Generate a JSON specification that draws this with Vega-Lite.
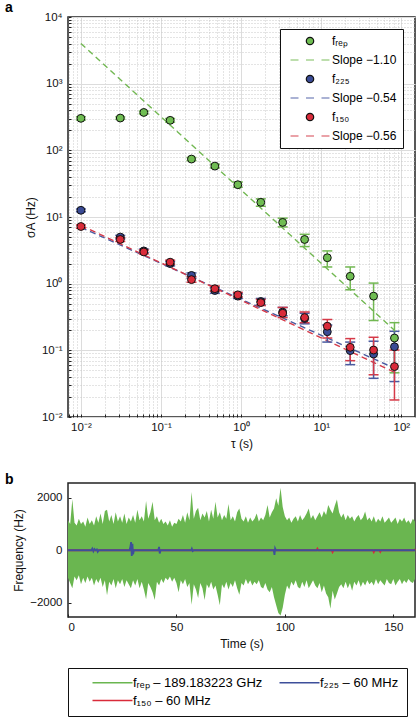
{
  "$schema": "https://vega.github.io/schema/vega-lite/v6.json",
  "padding": {"left": 4, "top": 0, "right": 0, "bottom": 0},
  "spacing": 21,
  "config": {
    "font": "Liberation Sans",
    "view": {"stroke": "#222", "strokeWidth": 1.5},
    "axis": {"labelFontSize": 11.5, "titleFontSize": 12, "labelColor": "#111", "titleColor": "#111", "titleFontWeight": "normal", "domain": false, "tickColor": "#222", "tickSize": -3, "labelPadding": 9, "titlePadding": 4},
    "axisX": {"labelPadding": 7, "titlePadding": 6}
  },
  "resolve": {"scale": {"x": "independent", "y": "independent", "color": "independent"}},
  "datasets": {
    "pts": [
      {"series": "fᵣₑₚ", "g": "rep", "tau": 0.01, "val": 302, "lo": 285, "hi": 318},
      {"series": "fᵣₑₚ", "g": "rep", "tau": 0.031, "val": 305, "lo": 292, "hi": 318},
      {"series": "fᵣₑₚ", "g": "rep", "tau": 0.061, "val": 370, "lo": 352, "hi": 388},
      {"series": "fᵣₑₚ", "g": "rep", "tau": 0.13, "val": 282, "lo": 265, "hi": 300},
      {"series": "fᵣₑₚ", "g": "rep", "tau": 0.24, "val": 74, "lo": 70, "hi": 78},
      {"series": "fᵣₑₚ", "g": "rep", "tau": 0.47, "val": 58, "lo": 54.5, "hi": 62},
      {"series": "fᵣₑₚ", "g": "rep", "tau": 0.91, "val": 30.5, "lo": 28, "hi": 33.5},
      {"series": "fᵣₑₚ", "g": "rep", "tau": 1.76, "val": 16.6, "lo": 14.5, "hi": 18.7},
      {"series": "fᵣₑₚ", "g": "rep", "tau": 3.3, "val": 8.3, "lo": 7.1, "hi": 9.6},
      {"series": "fᵣₑₚ", "g": "rep", "tau": 6.2, "val": 4.6, "lo": 3.6, "hi": 5.5},
      {"series": "fᵣₑₚ", "g": "rep", "tau": 11.9, "val": 2.45, "lo": 1.78, "hi": 3.1},
      {"series": "fᵣₑₚ", "g": "rep", "tau": 23, "val": 1.29, "lo": 0.81, "hi": 1.78},
      {"series": "fᵣₑₚ", "g": "rep", "tau": 45, "val": 0.65, "lo": 0.28, "hi": 1.02},
      {"series": "fᵣₑₚ", "g": "rep", "tau": 82, "val": 0.153, "lo": 0.046, "hi": 0.26},
      {"series": "f₂₂₅", "g": "225", "tau": 0.01, "val": 12.6, "lo": 12.0, "hi": 13.2},
      {"series": "f₂₂₅", "g": "225", "tau": 0.031, "val": 5.0, "lo": 4.7, "hi": 5.3},
      {"series": "f₂₂₅", "g": "225", "tau": 0.061, "val": 3.1, "lo": 2.9, "hi": 3.3},
      {"series": "f₂₂₅", "g": "225", "tau": 0.13, "val": 2.0, "lo": 1.85, "hi": 2.15},
      {"series": "f₂₂₅", "g": "225", "tau": 0.24, "val": 1.33, "lo": 1.2, "hi": 1.45},
      {"series": "f₂₂₅", "g": "225", "tau": 0.47, "val": 0.79, "lo": 0.72, "hi": 0.87},
      {"series": "f₂₂₅", "g": "225", "tau": 0.91, "val": 0.65, "lo": 0.6, "hi": 0.71},
      {"series": "f₂₂₅", "g": "225", "tau": 1.76, "val": 0.54, "lo": 0.48, "hi": 0.6},
      {"series": "f₂₂₅", "g": "225", "tau": 3.3, "val": 0.375, "lo": 0.33, "hi": 0.44},
      {"series": "f₂₂₅", "g": "225", "tau": 6.2, "val": 0.3, "lo": 0.25, "hi": 0.36},
      {"series": "f₂₂₅", "g": "225", "tau": 11.9, "val": 0.19, "lo": 0.133, "hi": 0.24},
      {"series": "f₂₂₅", "g": "225", "tau": 23, "val": 0.099, "lo": 0.061, "hi": 0.133},
      {"series": "f₂₂₅", "g": "225", "tau": 45, "val": 0.088, "lo": 0.038, "hi": 0.137},
      {"series": "f₂₂₅", "g": "225", "tau": 82, "val": 0.113, "lo": 0.034, "hi": 0.193},
      {"series": "f₁₅₀", "g": "150", "tau": 0.01, "val": 7.2, "lo": 6.8, "hi": 7.6},
      {"series": "f₁₅₀", "g": "150", "tau": 0.031, "val": 4.6, "lo": 4.3, "hi": 4.9},
      {"series": "f₁₅₀", "g": "150", "tau": 0.061, "val": 2.99, "lo": 2.8, "hi": 3.2},
      {"series": "f₁₅₀", "g": "150", "tau": 0.13, "val": 2.1, "lo": 1.95, "hi": 2.25},
      {"series": "f₁₅₀", "g": "150", "tau": 0.24, "val": 1.15, "lo": 1.05, "hi": 1.27},
      {"series": "f₁₅₀", "g": "150", "tau": 0.47, "val": 0.84, "lo": 0.77, "hi": 0.92},
      {"series": "f₁₅₀", "g": "150", "tau": 0.91, "val": 0.68, "lo": 0.63, "hi": 0.74},
      {"series": "f₁₅₀", "g": "150", "tau": 1.76, "val": 0.52, "lo": 0.47, "hi": 0.58},
      {"series": "f₁₅₀", "g": "150", "tau": 3.3, "val": 0.36, "lo": 0.31, "hi": 0.44},
      {"series": "f₁₅₀", "g": "150", "tau": 6.2, "val": 0.31, "lo": 0.26, "hi": 0.376},
      {"series": "f₁₅₀", "g": "150", "tau": 11.9, "val": 0.23, "lo": 0.153, "hi": 0.29},
      {"series": "f₁₅₀", "g": "150", "tau": 23, "val": 0.111, "lo": 0.07, "hi": 0.15},
      {"series": "f₁₅₀", "g": "150", "tau": 45, "val": 0.101, "lo": 0.043, "hi": 0.157},
      {"series": "f₁₅₀", "g": "150", "tau": 82, "val": 0.057, "lo": 0.018, "hi": 0.101}
    ],
    "fits": [
      {"g": "rep", "tau": 0.01, "val": 4000},
      {"g": "rep", "tau": 82, "val": 0.2},
      {"g": "225", "tau": 0.01, "val": 7.0},
      {"g": "225", "tau": 82, "val": 0.054},
      {"g": "150", "tau": 0.01, "val": 7.5},
      {"g": "150", "tau": 82, "val": 0.047}
    ],
    "noise": [
      {"t": 0, "hi": 1150, "lo": -1050}, {"t": 1, "hi": 1000, "lo": -1250}, {"t": 2, "hi": 1950, "lo": -1450}, {"t": 3, "hi": 1050, "lo": -1000},
      {"t": 4, "hi": 950, "lo": -1150}, {"t": 5, "hi": 1200, "lo": -950}, {"t": 6, "hi": 1000, "lo": -1300}, {"t": 7, "hi": 1100, "lo": -1050},
      {"t": 8, "hi": 900, "lo": -1250}, {"t": 9, "hi": 1250, "lo": -1000}, {"t": 10, "hi": 1000, "lo": -1200}, {"t": 11, "hi": 1150, "lo": -1050},
      {"t": 12, "hi": 950, "lo": -1350}, {"t": 13, "hi": 1300, "lo": -1100}, {"t": 14, "hi": 1050, "lo": -1250}, {"t": 15, "hi": 1400, "lo": -1050},
      {"t": 16, "hi": 1000, "lo": -1400}, {"t": 17, "hi": 1500, "lo": -1150}, {"t": 18, "hi": 1550, "lo": -1720}, {"t": 19, "hi": 1100, "lo": -1200},
      {"t": 20, "hi": 1350, "lo": -1350}, {"t": 21, "hi": 1000, "lo": -1100}, {"t": 22, "hi": 1450, "lo": -1450}, {"t": 23, "hi": 1100, "lo": -1150},
      {"t": 24, "hi": 1300, "lo": -1300}, {"t": 25, "hi": 1050, "lo": -1100}, {"t": 26, "hi": 1400, "lo": -1400}, {"t": 27, "hi": 1000, "lo": -1150},
      {"t": 28, "hi": 1250, "lo": -1300}, {"t": 29, "hi": 1100, "lo": -1450}, {"t": 30, "hi": 1350, "lo": -1150}, {"t": 31, "hi": 1050, "lo": -1350},
      {"t": 32, "hi": 1550, "lo": -1100}, {"t": 33, "hi": 1150, "lo": -1450}, {"t": 34, "hi": 1300, "lo": -1200}, {"t": 35, "hi": 1100, "lo": -1500},
      {"t": 36, "hi": 1880, "lo": -1870}, {"t": 37, "hi": 1200, "lo": -1250}, {"t": 38, "hi": 1450, "lo": -1400}, {"t": 39, "hi": 1850, "lo": -1600},
      {"t": 40, "hi": 1150, "lo": -1900}, {"t": 41, "hi": 1300, "lo": -1200}, {"t": 42, "hi": 1050, "lo": -1350}, {"t": 43, "hi": 1200, "lo": -1100},
      {"t": 44, "hi": 1000, "lo": -1250}, {"t": 45, "hi": 1100, "lo": -1050}, {"t": 46, "hi": 950, "lo": -1150}, {"t": 47, "hi": 1150, "lo": -1000},
      {"t": 48, "hi": 900, "lo": -1200}, {"t": 49, "hi": 1050, "lo": -1050}, {"t": 50, "hi": 1000, "lo": -1250}, {"t": 51, "hi": 1200, "lo": -1600},
      {"t": 52, "hi": 1100, "lo": -1150}, {"t": 53, "hi": 1350, "lo": -1300}, {"t": 54, "hi": 1050, "lo": -1100}, {"t": 55, "hi": 1450, "lo": -1400},
      {"t": 56, "hi": 1150, "lo": -1250}, {"t": 57, "hi": 2230, "lo": -2080}, {"t": 58, "hi": 1200, "lo": -1300}, {"t": 59, "hi": 1500, "lo": -1500},
      {"t": 60, "hi": 1620, "lo": -1820}, {"t": 61, "hi": 1150, "lo": -1250}, {"t": 62, "hi": 1400, "lo": -1450}, {"t": 63, "hi": 1250, "lo": -1900},
      {"t": 64, "hi": 1500, "lo": -1300}, {"t": 65, "hi": 1100, "lo": -1450}, {"t": 66, "hi": 1550, "lo": -1200}, {"t": 67, "hi": 1200, "lo": -1500},
      {"t": 68, "hi": 1850, "lo": -1350}, {"t": 69, "hi": 1250, "lo": -1700}, {"t": 70, "hi": 1450, "lo": -2100}, {"t": 71, "hi": 1150, "lo": -1300},
      {"t": 72, "hi": 1350, "lo": -1450}, {"t": 73, "hi": 1200, "lo": -1200}, {"t": 74, "hi": 1770, "lo": -1500}, {"t": 75, "hi": 1150, "lo": -1250},
      {"t": 76, "hi": 1300, "lo": -1400}, {"t": 77, "hi": 1100, "lo": -1150}, {"t": 78, "hi": 1450, "lo": -1450}, {"t": 79, "hi": 1600, "lo": -1700},
      {"t": 80, "hi": 1200, "lo": -1250}, {"t": 81, "hi": 1100, "lo": -1350}, {"t": 82, "hi": 1300, "lo": -1100}, {"t": 83, "hi": 1050, "lo": -1300},
      {"t": 84, "hi": 1250, "lo": -1150}, {"t": 85, "hi": 1100, "lo": -1350}, {"t": 86, "hi": 1200, "lo": -1200}, {"t": 87, "hi": 1400, "lo": -1300},
      {"t": 88, "hi": 1100, "lo": -1150}, {"t": 89, "hi": 1250, "lo": -1400}, {"t": 90, "hi": 1150, "lo": -1460}, {"t": 91, "hi": 1350, "lo": -1250},
      {"t": 92, "hi": 1730, "lo": -1500}, {"t": 93, "hi": 1250, "lo": -1600}, {"t": 94, "hi": 1450, "lo": -1400}, {"t": 95, "hi": 1600, "lo": -1800},
      {"t": 96, "hi": 1990, "lo": -2100}, {"t": 97, "hi": 1700, "lo": -2400}, {"t": 98, "hi": 2390, "lo": -2490}, {"t": 99, "hi": 1650, "lo": -2200},
      {"t": 100, "hi": 1300, "lo": -1700}, {"t": 101, "hi": 1150, "lo": -1350}, {"t": 102, "hi": 1250, "lo": -1500}, {"t": 103, "hi": 1050, "lo": -1200},
      {"t": 104, "hi": 1200, "lo": -1350}, {"t": 105, "hi": 1300, "lo": -1150}, {"t": 106, "hi": 1100, "lo": -1400}, {"t": 107, "hi": 1350, "lo": -1460},
      {"t": 108, "hi": 1150, "lo": -1200}, {"t": 109, "hi": 1250, "lo": -1400}, {"t": 110, "hi": 1400, "lo": -1150}, {"t": 111, "hi": 1600, "lo": -1450},
      {"t": 112, "hi": 1200, "lo": -1300}, {"t": 113, "hi": 1350, "lo": -1150}, {"t": 114, "hi": 1150, "lo": -1350}, {"t": 115, "hi": 1300, "lo": -1450},
      {"t": 116, "hi": 1450, "lo": -1250}, {"t": 117, "hi": 1250, "lo": -1600}, {"t": 118, "hi": 1500, "lo": -1350}, {"t": 119, "hi": 1350, "lo": -1650},
      {"t": 120, "hi": 1730, "lo": -1800}, {"t": 121, "hi": 1550, "lo": -2230}, {"t": 122, "hi": 1400, "lo": -1550}, {"t": 123, "hi": 1700, "lo": -1880},
      {"t": 124, "hi": 1940, "lo": -1650}, {"t": 125, "hi": 1450, "lo": -1400}, {"t": 126, "hi": 1250, "lo": -1300}, {"t": 127, "hi": 1400, "lo": -1450},
      {"t": 128, "hi": 1150, "lo": -1200}, {"t": 129, "hi": 1350, "lo": -1450}, {"t": 130, "hi": 1200, "lo": -1250}, {"t": 131, "hi": 1300, "lo": -1550},
      {"t": 132, "hi": 1100, "lo": -1200}, {"t": 133, "hi": 1250, "lo": -1350}, {"t": 134, "hi": 1350, "lo": -1150}, {"t": 135, "hi": 1150, "lo": -1400},
      {"t": 136, "hi": 1250, "lo": -1200}, {"t": 137, "hi": 1480, "lo": -1350}, {"t": 138, "hi": 1150, "lo": -1150}, {"t": 139, "hi": 1250, "lo": -1300},
      {"t": 140, "hi": 1100, "lo": -1200}, {"t": 141, "hi": 1300, "lo": -1350}, {"t": 142, "hi": 1050, "lo": -1100}, {"t": 143, "hi": 1200, "lo": -1300},
      {"t": 144, "hi": 1100, "lo": -1150}, {"t": 145, "hi": 1300, "lo": -1250}, {"t": 146, "hi": 1050, "lo": -1350}, {"t": 147, "hi": 1150, "lo": -1100},
      {"t": 148, "hi": 1250, "lo": -1250}, {"t": 149, "hi": 1050, "lo": -1300}, {"t": 150, "hi": 1150, "lo": -1100}, {"t": 151, "hi": 1250, "lo": -1350},
      {"t": 152, "hi": 1000, "lo": -1200}, {"t": 153, "hi": 1200, "lo": -1100}, {"t": 154, "hi": 1100, "lo": -1300}, {"t": 155, "hi": 1250, "lo": -1150},
      {"t": 156, "hi": 1050, "lo": -1250}, {"t": 157, "hi": 1150, "lo": -1100}, {"t": 158, "hi": 1000, "lo": -1200}, {"t": 159, "hi": 1200, "lo": -1250},
      {"t": 160, "hi": 1100, "lo": -1100}
    ],
    "red": [
      {"sig": "f₁₅₀ – 60 MHz", "t": 0, "v": 0}, {"sig": "f₁₅₀ – 60 MHz", "t": 114.6, "v": 0}, {"sig": "f₁₅₀ – 60 MHz", "t": 115, "v": 60},
      {"sig": "f₁₅₀ – 60 MHz", "t": 115.4, "v": 0}, {"sig": "f₁₅₀ – 60 MHz", "t": 121.6, "v": 0}, {"sig": "f₁₅₀ – 60 MHz", "t": 122, "v": -70},
      {"sig": "f₁₅₀ – 60 MHz", "t": 122.4, "v": 0}, {"sig": "f₁₅₀ – 60 MHz", "t": 140.6, "v": 0}, {"sig": "f₁₅₀ – 60 MHz", "t": 141, "v": -70},
      {"sig": "f₁₅₀ – 60 MHz", "t": 141.4, "v": 0}, {"sig": "f₁₅₀ – 60 MHz", "t": 143.6, "v": 0}, {"sig": "f₁₅₀ – 60 MHz", "t": 144, "v": -60},
      {"sig": "f₁₅₀ – 60 MHz", "t": 144.4, "v": 0}, {"sig": "f₁₅₀ – 60 MHz", "t": 159.5, "v": 0}, {"sig": "f₁₅₀ – 60 MHz", "t": 160, "v": 50}
    ],
    "blue": [
      {"sig": "f₂₂₅ – 60 MHz", "t": 0, "v": 0}, {"sig": "f₂₂₅ – 60 MHz", "t": 10.8, "v": 0}, {"sig": "f₂₂₅ – 60 MHz", "t": 11.2, "v": 60},
      {"sig": "f₂₂₅ – 60 MHz", "t": 11.7, "v": -40}, {"sig": "f₂₂₅ – 60 MHz", "t": 12.2, "v": 50}, {"sig": "f₂₂₅ – 60 MHz", "t": 12.8, "v": 0},
      {"sig": "f₂₂₅ – 60 MHz", "t": 13.3, "v": 30}, {"sig": "f₂₂₅ – 60 MHz", "t": 13.7, "v": -60}, {"sig": "f₂₂₅ – 60 MHz", "t": 14.2, "v": 0},
      {"sig": "f₂₂₅ – 60 MHz", "t": 28.4, "v": 0}, {"sig": "f₂₂₅ – 60 MHz", "t": 28.8, "v": 150}, {"sig": "f₂₂₅ – 60 MHz", "t": 29.1, "v": 310},
      {"sig": "f₂₂₅ – 60 MHz", "t": 29.4, "v": -220}, {"sig": "f₂₂₅ – 60 MHz", "t": 29.7, "v": 250}, {"sig": "f₂₂₅ – 60 MHz", "t": 30.0, "v": -150},
      {"sig": "f₂₂₅ – 60 MHz", "t": 30.4, "v": 0}, {"sig": "f₂₂₅ – 60 MHz", "t": 41.6, "v": 0}, {"sig": "f₂₂₅ – 60 MHz", "t": 42, "v": 130},
      {"sig": "f₂₂₅ – 60 MHz", "t": 42.3, "v": -120}, {"sig": "f₂₂₅ – 60 MHz", "t": 42.7, "v": 0}, {"sig": "f₂₂₅ – 60 MHz", "t": 56.8, "v": 0},
      {"sig": "f₂₂₅ – 60 MHz", "t": 57.1, "v": 60}, {"sig": "f₂₂₅ – 60 MHz", "t": 57.5, "v": -30}, {"sig": "f₂₂₅ – 60 MHz", "t": 58, "v": 0},
      {"sig": "f₂₂₅ – 60 MHz", "t": 94.9, "v": 0}, {"sig": "f₂₂₅ – 60 MHz", "t": 95.2, "v": -180}, {"sig": "f₂₂₅ – 60 MHz", "t": 95.5, "v": 70},
      {"sig": "f₂₂₅ – 60 MHz", "t": 95.9, "v": 0}, {"sig": "f₂₂₅ – 60 MHz", "t": 160, "v": 0}
    ]
  },
  "vconcat": [
    {
      "width": 347,
      "height": 400,
      "title": {"text": "a", "anchor": "start", "frame": "group", "dx": -63, "fontSize": 14, "fontWeight": "bold", "offset": -4},
      "encoding": {
        "x": {
          "field": "tau", "type": "quantitative",
          "scale": {"type": "log", "domain": [0.0069, 148], "nice": false},
          "axis": {
            "title": "τ (s)", "grid": true,
            "values": [0.007, 0.008, 0.009, 0.01, 0.02, 0.03, 0.04, 0.05, 0.06, 0.07, 0.08, 0.09, 0.1, 0.2, 0.3, 0.4, 0.5, 0.6, 0.7, 0.8, 0.9, 1, 2, 3, 4, 5, 6, 7, 8, 9, 10, 20, 30, 40, 50, 60, 70, 80, 90, 100],
            "labelExpr": "abs(log(datum.value)/LN10 - round(log(datum.value)/LN10)) < 0.001 ? '10' + replace(replace(replace(replace(replace(replace(replace('' + round(log(datum.value)/LN10), '-', '⁻'), '0', '⁰'), '1', '¹'), '2', '²'), '3', '³'), '4', '⁴'), '5', '⁵') : ''",
            "gridColor": {"condition": {"test": "abs(log(datum.value)/LN10 - round(log(datum.value)/LN10)) < 0.001", "value": "#dcdcdc"}, "value": "#c8c8c8"},
            "gridDash": {"condition": {"test": "abs(log(datum.value)/LN10 - round(log(datum.value)/LN10)) < 0.001", "value": []}, "value": [1, 2]}
          }
        },
        "y": {
          "field": "val", "type": "quantitative",
          "scale": {"type": "log", "domain": [0.01, 10000], "nice": false},
          "axis": {
            "title": "σA (Hz)", "grid": true,
            "values": [0.01, 0.02, 0.03, 0.04, 0.05, 0.06, 0.07, 0.08, 0.09, 0.1, 0.2, 0.3, 0.4, 0.5, 0.6, 0.7, 0.8, 0.9, 1, 2, 3, 4, 5, 6, 7, 8, 9, 10, 20, 30, 40, 50, 60, 70, 80, 90, 100, 200, 300, 400, 500, 600, 700, 800, 900, 1000, 2000, 3000, 4000, 5000, 6000, 7000, 8000, 9000, 10000],
            "labelExpr": "abs(log(datum.value)/LN10 - round(log(datum.value)/LN10)) < 0.001 ? '10' + replace(replace(replace(replace(replace(replace(replace('' + round(log(datum.value)/LN10), '-', '⁻'), '0', '⁰'), '1', '¹'), '2', '²'), '3', '³'), '4', '⁴'), '5', '⁵') : ''",
            "gridColor": {"condition": {"test": "abs(log(datum.value)/LN10 - round(log(datum.value)/LN10)) < 0.001", "value": "#dcdcdc"}, "value": "#c8c8c8"},
            "gridDash": {"condition": {"test": "abs(log(datum.value)/LN10 - round(log(datum.value)/LN10)) < 0.001", "value": []}, "value": [1, 2]}
          }
        }
      },
      "layer": [
        {
          "data": {"name": "fits"},
          "mark": {"type": "line", "strokeDash": [6, 4], "strokeWidth": 1.4},
          "encoding": {
            "color": {"field": "g", "type": "nominal", "scale": {"domain": ["rep", "225", "150"], "range": ["#72b852", "#4a5aa0", "#d63a48"]}, "legend": null}
          }
        },
        {
          "data": {"name": "pts"},
          "mark": {"type": "errorbar", "ticks": {"size": 10, "thickness": 1.5, "opacity": 1}, "rule": {"opacity": 1}, "thickness": 1.5},
          "encoding": {
            "y": {"field": "lo", "type": "quantitative", "title": "σA (Hz)"},
            "y2": {"field": "hi"},
            "color": {"field": "g", "type": "nominal", "legend": null}
          }
        },
        {
          "data": {"name": "pts"},
          "mark": {"type": "point", "filled": true, "size": 62, "strokeWidth": 1, "opacity": 1},
          "encoding": {
            "fill": {
              "field": "series", "type": "nominal",
              "scale": {"domain": ["fᵣₑₚ", "Slope −1.10", "f₂₂₅", "Slope −0.54", "f₁₅₀", "Slope −0.56"], "range": ["#6fbd52", "#7cbd5c", "#3a4b96", "#5666aa", "#d92b3a", "#d64652"]},
              "legend": {"title": null, "orient": "top-right", "offset": 12, "padding": 6, "strokeColor": "#111", "fillColor": "white", "symbolSize": 55, "symbolStrokeWidth": 1.2, "symbolOffset": 18, "labelOffset": 16, "labelFontSize": 12, "rowPadding": 6, "symbolOpacity": 1}
            },
            "stroke": {
              "field": "series", "type": "nominal",
              "scale": {"domain": ["fᵣₑₚ", "Slope −1.10", "f₂₂₅", "Slope −0.54", "f₁₅₀", "Slope −0.56"], "range": ["#111111", "#7cbd5c", "#111111", "#5666aa", "#111111", "#d64652"]}
            },
            "shape": {
              "field": "series", "type": "nominal",
              "scale": {"domain": ["fᵣₑₚ", "Slope −1.10", "f₂₂₅", "Slope −0.54", "f₁₅₀", "Slope −0.56"], "range": ["circle", "M-5.25,0H-3.1M-1.08,0H1.08M3.1,0H5.25", "circle", "M-5.25,0H-3.1M-1.08,0H1.08M3.1,0H5.25", "circle", "M-5.25,0H-3.1M-1.08,0H1.08M3.1,0H5.25"]}
            }
          }
        }
      ]
    },
    {
      "width": 347,
      "height": 134,
      "title": {"text": "b", "anchor": "start", "frame": "group", "dx": -63, "fontSize": 14, "fontWeight": "bold", "offset": -4},
      "layer": [
        {
          "data": {"name": "noise"},
          "mark": {"type": "area", "color": "#6ab650", "opacity": 1},
          "encoding": {
            "x": {"field": "t", "type": "quantitative", "scale": {"domain": [0, 160], "nice": false}, "axis": {"title": "Time (s)", "grid": false, "values": [0, 50, 100, 150]}},
            "y": {"field": "hi", "type": "quantitative", "scale": {"domain": [-2550, 2570], "nice": false}, "axis": {"title": "Frequency (Hz)", "grid": false, "values": [-2000, -1000, 0, 1000, 2000], "format": "d"}},
            "y2": {"field": "lo"}
          }
        },
        {
          "data": {"name": "red"},
          "mark": {"type": "line", "strokeWidth": 1.8},
          "encoding": {
            "x": {"field": "t", "type": "quantitative"},
            "y": {"field": "v", "type": "quantitative"},
            "color": {
              "field": "sig", "type": "nominal",
              "scale": {"domain": ["fᵣₑₚ – 189.183223 GHz", "f₂₂₅ – 60 MHz", "f₁₅₀ – 60 MHz"], "range": ["#6ab650", "#3d4f9a", "#d92b3a"]},
              "legend": {"title": null, "orient": "bottom", "direction": "horizontal", "columns": 2, "offset": 18, "padding": 8, "strokeColor": "#111", "symbolType": "M-5,0H5", "symbolSize": 64, "symbolStrokeWidth": 1.5, "symbolOffset": 30, "labelOffset": 14, "labelFontSize": 13, "labelLimit": 300, "rowPadding": 4, "columnPadding": 0}
            }
          }
        },
        {
          "data": {"name": "blue"},
          "mark": {"type": "line", "strokeWidth": 1.8},
          "encoding": {
            "x": {"field": "t", "type": "quantitative"},
            "y": {"field": "v", "type": "quantitative"},
            "color": {"field": "sig", "type": "nominal"}
          }
        }
      ]
    }
  ]
}
